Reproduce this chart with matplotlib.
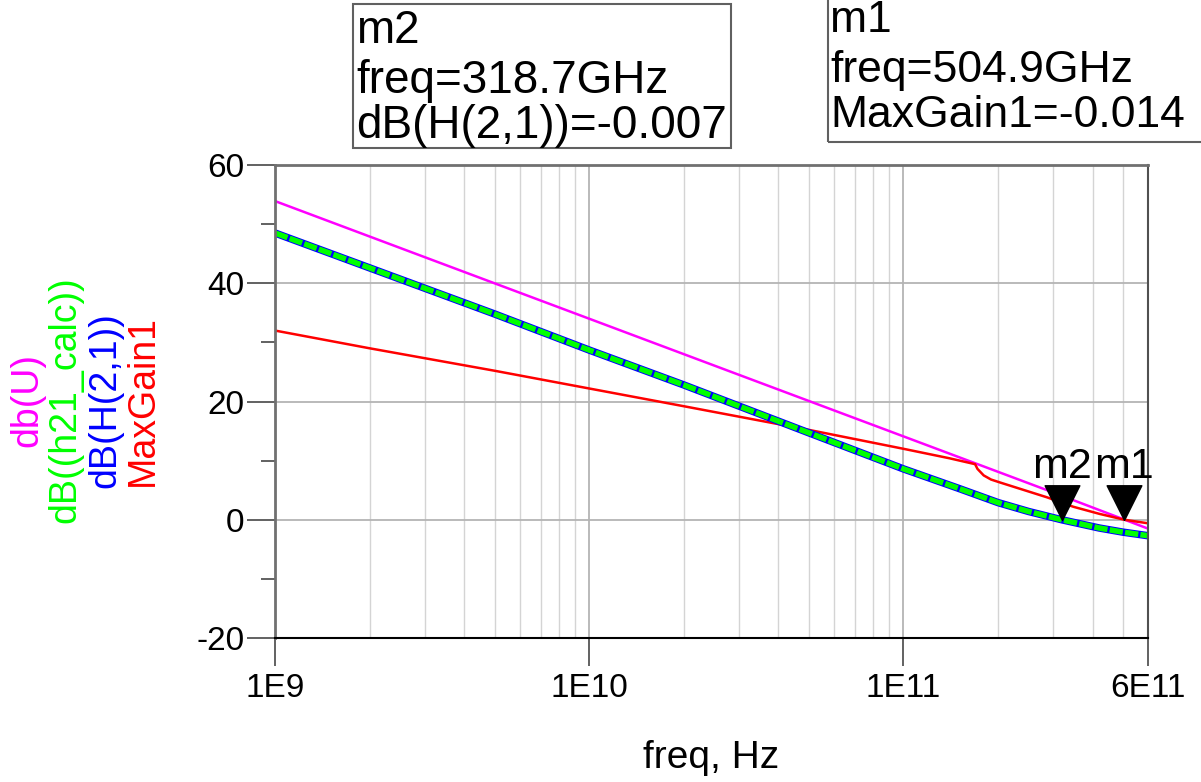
import matplotlib
matplotlib.use("Agg")
import matplotlib.pyplot as plt
from matplotlib.patches import Rectangle
from matplotlib.path import Path
from matplotlib.ticker import FixedLocator, LogLocator, NullFormatter

plt.rcParams['font.family'] = ['Liberation Sans', 'DejaVu Sans']
plt.rcParams['axes.unicode_minus'] = False

# ---- data ----
freq_u = [1e9, 3e9, 1e10, 3e10, 1e11, 3e11, 6e11]
db_u = [53.9, 44.4, 34.0, 24.5, 14.1, 4.6, -1.5]

freq_h21 = [1e9, 2e9, 5e9, 1e10, 2e10, 5e10, 1e11, 1.5e11, 2e11, 2.5e11,
            3.187e11, 4.2e11, 5e11, 6e11]
db_h21 = [48.5, 42.6, 34.8, 28.7, 22.8, 14.7, 8.6, 5.3, 2.9, 1.4,
          0.0, -1.4, -2.1, -2.7]

freq_mg = [1e9, 2e9, 5e9, 1e10, 2e10, 5e10, 1e11, 1.4e11, 1.69e11, 1.72e11,
           1.8e11, 1.9e11, 2.03e11, 2.86e11, 3.47e11, 4.2e11, 5.05e11, 6e11]
max_gain = [32.0, 29.0, 25.2, 22.2, 19.2, 15.2, 12.0, 10.4, 9.4, 8.6,
            7.5, 6.8, 6.3, 3.8, 2.2, 1.0, 0.0, -0.6]

markers = ['m2', 'm1']
marker_freq = [318.7e9, 504.9e9]
marker_val = [-0.007, -0.014]

xticks = [1e9, 1e10, 1e11, 6e11]
xticklabels = ['1E9', '1E10', '1E11', '6E11']
yticks = [-20, 0, 20, 40, 60]

W, H = 1201, 782
fig = plt.figure(figsize=(W / 100, H / 100), dpi=100)


def fx(p):
    return p / W


def fy(p):
    return 1 - p / H


ax = fig.add_axes([fx(275), fy(638), fx(1148) - fx(275), fy(165) - fy(638)])
ax.set_xscale('log')
ax.set_xlim(1e9, 6e11)
ax.set_ylim(-20, 60)

# grid
ax.xaxis.set_major_locator(FixedLocator(xticks))
ax.set_xticklabels(xticklabels)
ax.xaxis.set_minor_locator(LogLocator(base=10, subs=range(2, 10)))
ax.xaxis.set_minor_formatter(NullFormatter())
ax.set_yticks(yticks)
ax.set_yticks([-10, 10, 30, 50], minor=True)
ax.grid(which='major', color='#b4b4b4', lw=1.3)
ax.grid(which='minor', axis='x', color='#d4d4d4', lw=1.0)
ax.set_axisbelow(True)

ax.tick_params(which='major', direction='out', length=20, width=1.3,
               color='#555555', labelsize=24, pad=2)
ax.tick_params(axis='x', which='major', pad=5)
ax.tick_params(axis='y', which='minor', direction='out', length=10,
               width=1.3, color='#555555')
ax.tick_params(axis='x', which='minor', length=0)

for s in ['left', 'top']:
    ax.spines[s].set_color('#707070')
    ax.spines[s].set_linewidth(2)
ax.spines['right'].set_color('#505050')
ax.spines['right'].set_linewidth(1.5)
ax.spines['bottom'].set_color('black')
ax.spines['bottom'].set_linewidth(1.5)

# curves
ax.plot(freq_u, db_u, color='#ff00ff', lw=1.8)
ax.plot(freq_mg, max_gain, color='#ff0000', lw=1.8)
ax.plot(freq_h21, db_h21, color='#0000ff', lw=5.4, solid_capstyle='round')
ax.plot(freq_h21, db_h21, color='#00ff00', lw=4.0, dashes=(2.4, 0.4))

# marker triangles (tip on the data point)
tri = Path([(0, 0), (-1, 2), (1, 2), (0, 0)])
for name, f, v in zip(markers, marker_freq, marker_val):
    ax.plot([f], [v], marker=tri, markersize=50, color='black', ls='none',
            clip_on=False, zorder=5)
    ax.annotate(name, (f, v), xytext=(0, 30), textcoords='offset points',
                ha='center', va='baseline', fontsize=31, zorder=6)

ax.set_xlabel('freq, Hz', fontsize=28, labelpad=26)

# stacked y labels
ylabels = ['db(U)', 'dB((h21_calc))', 'dB(H(2,1))', 'MaxGain1']
ycolors = ['#ff00ff', '#00ff00', '#0000ff', '#ff0000']
for lab, col, xp in zip(ylabels, ycolors, [27, 65, 105, 143]):
    fig.text(fx(xp), fy(400), lab, rotation=90, ha='center', va='center',
             color=col, fontsize=27)

# marker readout boxes
fig.add_artist(Rectangle((fx(353), fy(148)), fx(731) - fx(353), fy(4) - fy(148),
                         transform=fig.transFigure, fill=False,
                         edgecolor='#606060', lw=1.5))
fig.add_artist(Rectangle((fx(828), fy(142)), fx(1230) - fx(828), fy(-20) - fy(142),
                         transform=fig.transFigure, fill=False,
                         edgecolor='#606060', lw=1.5))

box_m2 = ['m2', 'freq=318.7GHz', 'dB(H(2,1))=-0.007']
box_m1 = ['m1', 'freq=504.9GHz', 'MaxGain1=-0.014']
for line, yb in zip(box_m2, [43, 93, 138]):
    fig.text(fx(356), fy(yb), line, ha='left', va='baseline', fontsize=33)
for line, yb in zip(box_m1, [32, 82, 127]):
    fig.text(fx(830), fy(yb), line, ha='left', va='baseline', fontsize=32)

fig.savefig('out.png', dpi=100)
